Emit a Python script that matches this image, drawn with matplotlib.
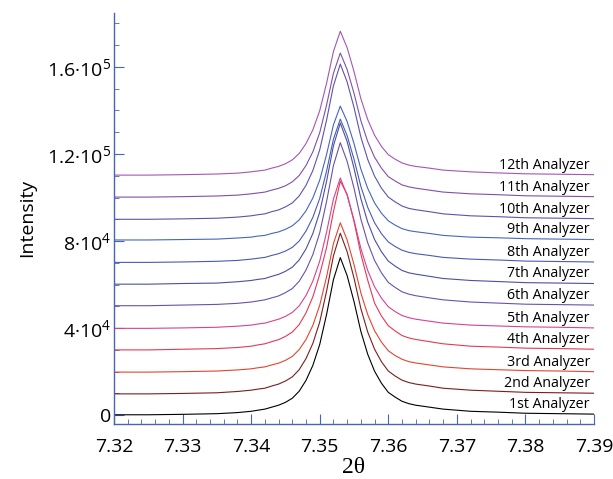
import numpy as np
import matplotlib.pyplot as plt
from matplotlib.ticker import MultipleLocator, FixedLocator, FixedFormatter

plt.rcParams['font.family'] = ['Open Sans', 'DejaVu Sans']
plt.rcParams['mathtext.fontset'] = 'custom'
plt.rcParams['mathtext.rm'] = 'Open Sans'
plt.rcParams['mathtext.default'] = 'regular'

# 2theta grid
two_theta = [7.320, 7.325, 7.330, 7.335, 7.338, 7.340, 7.341, 7.342, 7.343, 7.344,
             7.345, 7.346, 7.347, 7.348, 7.349, 7.350, 7.351, 7.352, 7.353, 7.354,
             7.355, 7.356, 7.357, 7.358, 7.359, 7.360, 7.361, 7.362, 7.363, 7.364,
             7.366, 7.368, 7.372, 7.376, 7.380, 7.385, 7.390]

# intensities in units of 1e3 counts (curves stacked as in the original)
a1 = [0.2, 0.2, 0.4, 0.7, 1.2, 1.8, 2.3, 2.8, 3.7, 4.6, 5.9, 7.8, 11.0, 16.0, 22.9, 32.5,
      46.3, 62.3, 72.4, 64.1, 52.2, 38.5, 28.0, 20.2, 14.7, 10.5, 8.3, 6.4, 5.3, 4.6, 3.7,
      2.8, 1.8, 1.4, 0.9, 0.7, 0.5]
a2 = [9.8, 9.8, 10.0, 10.3, 10.9, 11.5, 12.0, 12.4, 13.4, 14.3, 15.7, 17.6, 20.9, 26.0,
      33.0, 42.8, 57.0, 73.2, 83.6, 75.1, 63.0, 49.0, 38.2, 30.3, 24.6, 20.3, 18.0, 16.1,
      15.0, 14.3, 13.4, 12.4, 11.5, 11.0, 10.5, 10.3, 10.1]
a3 = [19.8, 19.8, 20.0, 20.3, 20.8, 21.3, 21.8, 22.2, 23.1, 23.9, 25.2, 27.0, 30.1, 34.8,
      41.3, 50.5, 63.6, 78.8, 88.4, 80.5, 69.2, 56.2, 46.2, 38.8, 33.6, 29.6, 27.4, 25.7,
      24.6, 24.0, 23.1, 22.2, 21.3, 20.9, 20.5, 20.3, 20.0]
a4 = [30.0, 30.0, 30.3, 30.6, 31.1, 31.7, 32.3, 32.8, 33.8, 34.7, 36.2, 38.2, 41.6, 47.0,
      54.4, 64.7, 77.0, 93.5, 107.5, 101.5, 89.0, 74.0, 62.0, 51.5, 45.6, 41.1, 38.7, 36.6,
      35.5, 34.8, 33.8, 32.8, 31.7, 31.3, 30.8, 30.6, 30.3]
a5 = [39.9, 39.9, 40.1, 40.4, 40.9, 41.4, 41.9, 42.3, 43.2, 44.1, 45.4, 47.2, 50.2, 55.0,
      61.6, 70.8, 84.1, 99.3, 109.0, 101.0, 89.7, 76.6, 66.5, 59.0, 53.8, 49.8, 47.6, 45.8,
      44.8, 44.1, 43.2, 42.3, 41.4, 41.0, 40.6, 40.4, 40.1]
a6 = [50.3, 50.3, 50.6, 50.9, 51.4, 52.0, 52.5, 53.0, 53.9, 54.8, 56.3, 58.2, 61.5, 66.7,
      73.8, 83.8, 98.2, 114.7, 125.2, 116.6, 104.3, 90.1, 79.2, 71.1, 65.4, 61.0, 58.7, 56.7,
      55.6, 54.9, 53.9, 53.0, 52.0, 51.5, 51.0, 50.8, 50.6]
a7 = [60.2, 60.2, 60.5, 60.7, 61.3, 61.9, 62.4, 62.8, 63.8, 64.7, 66.1, 68.0, 71.3, 76.4,
      83.5, 93.3, 107.5, 123.8, 134.2, 125.7, 113.5, 99.5, 88.7, 80.7, 75.1, 70.8, 68.5, 66.5,
      65.4, 64.8, 63.8, 62.8, 61.9, 61.4, 60.9, 60.7, 60.5]
a8 = [70.2, 70.2, 70.4, 70.7, 71.1, 71.7, 72.1, 72.5, 73.4, 74.2, 75.4, 77.1, 80.0, 84.6,
      90.9, 99.6, 112.2, 126.8, 136.0, 128.4, 117.6, 105.1, 95.5, 88.4, 83.4, 79.6, 77.5, 75.8,
      74.8, 74.2, 73.4, 72.5, 71.7, 71.3, 70.8, 70.6, 70.4]
a9 = [80.5, 80.5, 80.7, 80.9, 81.4, 81.8, 82.3, 82.6, 83.5, 84.2, 85.4, 87.0, 89.7, 93.9,
      99.8, 108.0, 119.8, 133.4, 142.0, 134.9, 124.8, 113.1, 104.2, 97.5, 92.8, 89.3, 87.3,
      85.7, 84.8, 84.3, 83.5, 82.6, 81.8, 81.5, 81.1, 80.9, 80.7]
a10 = [90.0, 90.0, 90.2, 90.5, 91.0, 91.6, 92.1, 92.5, 93.5, 94.3, 95.7, 97.5, 100.7, 105.6,
       112.4, 121.9, 135.6, 151.3, 161.3, 153.1, 141.4, 127.8, 117.5, 109.8, 104.3, 100.2,
       98.0, 96.1, 95.0, 94.4, 93.5, 92.5, 91.6, 91.2, 90.7, 90.5, 90.3]
a11 = [100.2, 100.2, 100.4, 100.7, 101.1, 101.7, 102.1, 102.5, 103.4, 104.2, 105.4, 107.2,
       110.1, 114.7, 121.0, 129.8, 142.5, 157.1, 166.4, 158.8, 147.9, 135.3, 125.7, 118.5,
       113.5, 109.6, 107.6, 105.8, 104.9, 104.3, 103.4, 102.5, 101.7, 101.3, 100.8, 100.6, 100.4]
a12 = [110.3, 110.3, 110.5, 110.8, 111.2, 111.8, 112.2, 112.6, 113.5, 114.3, 115.5, 117.3,
       120.2, 124.8, 131.1, 139.9, 152.5, 167.1, 176.4, 168.8, 157.9, 145.4, 135.8, 128.6,
       123.5, 119.7, 117.6, 115.9, 114.9, 114.3, 113.5, 112.6, 111.8, 111.3, 110.9, 110.7, 110.5]

curves = [a1, a2, a3, a4, a5, a6, a7, a8, a9, a10, a11, a12]
names = ['1st Analyzer', '2nd Analyzer', '3rd Analyzer', '4th Analyzer', '5th Analyzer',
         '6th Analyzer', '7th Analyzer', '8th Analyzer', '9th Analyzer', '10th Analyzer',
         '11th Analyzer', '12th Analyzer']
colors = ['#000000', '#7a1e1e', '#e2452e', '#e23a55', '#d8428f', '#6a52a8',
          '#4b4fa0', '#4a5bb3', '#4566bb', '#5a55aa', '#8050a8', '#a655b5']

fig = plt.figure(figsize=(6.13, 4.79), dpi=100)
ax = fig.add_axes([0.186, 0.115, 0.783, 0.858])

for y, c, name in zip(curves, colors, names):
    y = np.array(y) * 1000
    ax.plot(two_theta, y, color=c, lw=0.8)
    ax.text(7.3894, y[-1] + 2800, name, ha='right', va='baseline', fontsize=10.3)

ax.set_xlim(7.32, 7.39)
ax.set_ylim(-4000, 184800)

ax.xaxis.set_major_locator(MultipleLocator(0.01))
ax.xaxis.set_minor_locator(MultipleLocator(0.002))
ax.xaxis.set_major_formatter(plt.FuncFormatter(lambda v, p: f'{v:.2f}'))
ax.yaxis.set_major_locator(FixedLocator([0, 40000, 80000, 120000, 160000]))
ax.yaxis.set_major_formatter(FixedFormatter(['0', '4·10$^4$', '8·10$^4$', '1.2·10$^5$', '1.6·10$^5$']))
ax.yaxis.set_minor_locator(FixedLocator(np.arange(0, 181000, 10000)))

spine_c = '#4a64b4'
for s in ['top', 'right']:
    ax.spines[s].set_visible(False)
for s in ['left', 'bottom']:
    ax.spines[s].set_color(spine_c)
    ax.spines[s].set_linewidth(1.0)
ax.tick_params(which='both', direction='in', color=spine_c, labelsize=14)
ax.tick_params(which='major', length=7)
ax.tick_params(which='minor', length=3.5)
ax.tick_params(axis='x', pad=10)
ax.tick_params(axis='y', pad=2)

ax.set_ylabel('Intensity', fontsize=14, labelpad=8)
ax.set_xlabel('2θ', fontsize=17, family=['Liberation Serif'], labelpad=1)

plt.savefig('out.png', dpi=100)
